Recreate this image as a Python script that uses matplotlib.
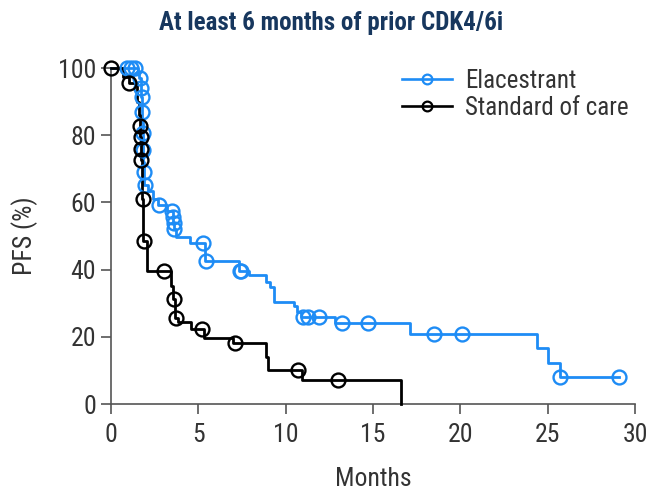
import matplotlib
matplotlib.use("Agg")
import matplotlib.pyplot as plt
from matplotlib import font_manager

# Kaplan-Meier steps: time where survival changes, new survival value
ela_t = [0, 1.55, 1.62, 1.70, 1.73, 1.75, 1.78, 1.80, 1.82, 1.84, 1.86, 1.90,
         2.1, 2.4, 2.7, 3.2, 3.52, 3.56, 3.60, 3.7, 4.5, 5.35, 7.3, 7.9, 8.85,
         9.1, 9.3, 10.45, 10.65, 10.85, 12.8, 17.1, 24.4, 25.0, 25.7, 29.1]
ela_s = [100, 98.5, 97, 94, 91.5, 87, 84, 80.6, 75.6, 72, 69.1, 65.2,
         63.5, 61, 59.2, 57.5, 55.7, 53.8, 52, 49.8, 48.0, 42.5, 39.5, 38.3, 36.3,
         34.9, 30.5, 29.3, 27.3, 26.0, 24.0, 20.8, 16.6, 12.1, 8.1, 8.1]
ela_cens_t = [0.9, 1.15, 1.35, 1.65, 1.72, 1.74, 1.76, 1.81, 1.83, 1.87, 1.92,
              2.75, 3.48, 3.54, 3.58, 3.62, 5.25, 5.45, 7.35, 7.45, 11.0, 11.3,
              11.9, 13.2, 14.7, 18.5, 20.1, 25.7, 29.1]
ela_cens_s = [100, 100, 100, 97, 94, 91.5, 87, 80.6, 75.6, 69.1, 65.2,
              59.2, 57.5, 55.7, 53.8, 52, 48.0, 42.5, 39.5, 39.5, 26.0, 26.0,
              26.0, 24.0, 24.0, 20.8, 20.8, 8.1, 8.1]

soc_t = [0, 0.7, 1.0, 1.5, 1.6, 1.65, 1.68, 1.70, 1.72, 1.76, 1.78, 1.82, 1.84,
         2.05, 3.45, 3.55, 3.65, 3.8, 4.6, 5.3, 7.0, 8.85, 9.0, 10.9, 16.6, 16.6]
soc_s = [100, 97.5, 95.5, 90, 86, 82.7, 79.5, 76, 72.6, 65, 61, 55, 48.5,
         39.7, 35, 31.3, 25.6, 24.5, 22.3, 19.6, 18.2, 14, 10.0, 7.0, 0, 0]
soc_cens_t = [0, 1.0, 1.66, 1.69, 1.71, 1.73, 1.8, 1.86, 3.0, 3.6, 3.7, 5.2,
              7.1, 10.7, 13.0]
soc_cens_s = [100, 95.5, 82.7, 79.5, 76, 72.6, 61, 48.5, 39.7, 31.3, 25.6,
              22.3, 18.2, 10.0, 7.0]

xticks = [0, 5, 10, 15, 20, 25, 30]
yticks = [0, 20, 40, 60, 80, 100]

# pick a narrow font if one is around, otherwise an Arial-like one
fonts = font_manager.fontManager.ttflist
names = {f.name for f in fonts}
family = None
for n in ["Liberation Sans Narrow", "Arial Narrow", "Roboto Condensed",
          "Open Sans Condensed", "Noto Sans Condensed", "DejaVu Sans Condensed"]:
    if n in names:
        family = n
        break
if family is None:
    for n in ["Roboto", "Noto Sans", "Open Sans", "DejaVu Sans"]:
        if any(f.name == n and f.stretch in ("condensed", "semi-condensed") for f in fonts):
            family = n
            plt.rcParams["font.stretch"] = "condensed"
            break
if family is None:
    family = "Liberation Sans"
plt.rcParams["font.family"] = [family, "DejaVu Sans"]

blue = "#1e8cf5"
black = "#000000"
grey = "#555555"
txt = "#333333"

fig = plt.figure(figsize=(6.5, 4.9), dpi=100)
ax = fig.add_axes([0.171, 0.1755, 0.806, 0.6855])

ax.step(ela_t, ela_s, where="post", color=blue, lw=2.0, clip_on=False, zorder=3)
ax.plot(ela_cens_t, ela_cens_s, "o", ms=10, mfc="none", mec=blue, mew=1.7,
        clip_on=False, zorder=4)
ax.step(soc_t, soc_s, where="post", color=black, lw=2.0, clip_on=False, zorder=3)
ax.plot(soc_cens_t, soc_cens_s, "o", ms=10, mfc="none", mec=black, mew=1.7,
        clip_on=False, zorder=4)

# legend handles
ax.plot([], [], "-o", color=blue, ms=7, mfc="none", mew=1.6, lw=1.9, label="Elacestrant")
ax.plot([], [], "-o", color=black, ms=7, mfc="none", mew=1.6, lw=1.9, label="Standard of care")
leg = ax.legend(loc="upper right", bbox_to_anchor=(1.03, 1.065), frameon=False,
                fontsize=18, handlelength=2.0, handletextpad=0.5, labelspacing=0.12)
for t in leg.get_texts():
    t.set_color(txt)

ax.set_xlim(0, 30)
ax.set_ylim(0, 100)
ax.set_xticks(xticks)
ax.set_yticks(yticks)
for s in ["top", "right"]:
    ax.spines[s].set_visible(False)
for s in ["left", "bottom"]:
    ax.spines[s].set_color(grey)
    ax.spines[s].set_linewidth(1.2)
ax.tick_params(axis="both", colors=grey, length=7, width=1.2, labelsize=18.5,
               labelcolor=txt)
ax.tick_params(axis="x", pad=7)
ax.tick_params(axis="y", pad=4)

ax.set_xlabel("Months", fontsize=18.5, color=txt, labelpad=14)
ax.set_ylabel("PFS (%)", fontsize=18.5, color=txt, labelpad=14)

fig.text(0.51, 0.953, "At least 6 months of prior CDK4/6i", ha="center", va="center",
         fontsize=18, fontweight="bold", color="#17375e")

fig.savefig("out.png", dpi=100)
